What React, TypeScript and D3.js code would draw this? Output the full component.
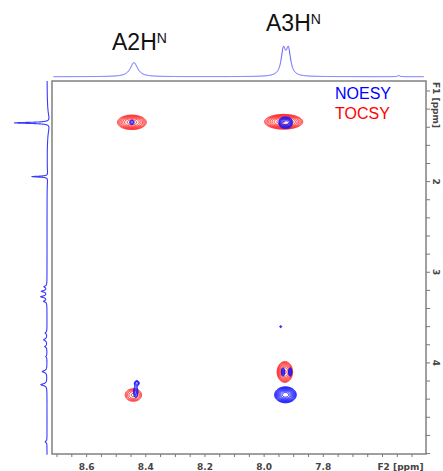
import React, { useMemo } from "react";
import * as d3 from "d3";

const W = 443;
const H = 471;

// Plot frame (pixels) and spectral windows (ppm)
const FRAME = { left: 52, top: 81, right: 426, bottom: 454 };
const F2_DOMAIN: [number, number] = [8.717, 7.453];
const F1_DOMAIN: [number, number] = [0.89, 5.005];

// Axis labels
const F2_LABEL_VALUES = [8.6, 8.4, 8.2, 8.0, 7.8];
const F2_LABELS = ["8.6", "8.4", "8.2", "8.0", "7.8"];
const F1_LABEL_VALUES = [2, 3, 4];
const F1_LABELS = ["2", "3", "4"];

// 1D projection along F2: [shift ppm, intensity, half-width ppm]
const F2_PEAKS: [number, number, number][] = [
  [8.440, 0.47, 0.015],
  [7.935, 0.83, 0.009],
  [7.918, 0.83, 0.009],
  [7.545, 0.04, 0.004],
];

// 1D projection along F1: [shift ppm, intensity, half-width ppm]
const F1_PEAKS: [number, number, number][] = [
  [1.352, 1.0, 0.007],
  [1.352, -0.09, 0.1],
  [1.945, 0.44, 0.006],
  [1.945, -0.03, 0.06],
  [3.16, 0.08, 0.01],
  [3.21, 0.15, 0.01],
  [3.27, 0.17, 0.01],
  [3.32, 0.09, 0.01],
  [3.67, 0.05, 0.01],
  [3.745, 0.09, 0.012],
  [3.82, 0.06, 0.01],
  [3.93, 0.03, 0.01],
  [4.095, 0.13, 0.012],
  [4.24, 0.17, 0.012],
  [4.87, 0.05, 0.01],
];

// 2D cross peaks: [F2 ppm, F1 ppm, F2 width ppm, F1 width ppm, intensity]
const TOCSY_PEAKS: [number, number, number, number, number][] = [
  [8.447, 1.346, 0.028, 0.046, 0.45],
  [7.934, 1.34, 0.034, 0.043, 0.6],
  [7.93, 4.1, 0.0145, 0.064, 0.5],
  [8.442, 4.354, 0.02, 0.05, 0.26],
];

const NOESY_PEAKS: [number, number, number, number, number][] = [
  [8.447, 1.346, 0.0065, 0.021, 0.2],
  [7.936, 1.35, 0.009, 0.036, 0.35],
  [7.919, 1.35, 0.009, 0.036, 0.35],
  [7.944, 3.6, 0.004, 0.013, 0.14],
  [7.936, 4.1, 0.004, 0.034, 0.25],
  [7.912, 4.1, 0.004, 0.034, 0.25],
  [7.928, 4.352, 0.0175, 0.042, 0.9],
  [8.43, 4.222, 0.006, 0.02, 0.22],
  [8.434, 4.321, 0.006, 0.05, 0.22],
];

const CONTOUR_LEVELS = d3.range(14).map((k) => 0.1 * Math.pow(1.25, k));

const xScale = d3.scaleLinear().domain(F2_DOMAIN).range([FRAME.left, FRAME.right]);
const yScale = d3.scaleLinear().domain(F1_DOMAIN).range([FRAME.top, FRAME.bottom]);

function lorentz(peaks: [number, number, number][], v: number) {
  let s = 0;
  for (const [c, h, g] of peaks) s += (h * g * g) / ((v - c) * (v - c) + g * g);
  return s;
}

function contourPaths(peaks: [number, number, number, number, number][]) {
  const res = 0.5;
  const x0 = FRAME.left;
  const y0 = FRAME.top;
  const nx = Math.round((FRAME.right - FRAME.left) / res);
  const ny = Math.round((FRAME.bottom - FRAME.top) / res);
  const grid = new Float64Array(nx * ny);
  for (const [f2, f1, w2, w1, amp] of peaks) {
    const cx = xScale(f2);
    const cy = yScale(f1);
    const sx = Math.abs(xScale(f2 + w2) - cx);
    const sy = Math.abs(yScale(f1 + w1) - cy);
    const i0 = Math.max(0, Math.floor((cx - 5 * sx - x0) / res));
    const i1 = Math.min(nx - 1, Math.ceil((cx + 5 * sx - x0) / res));
    const j0 = Math.max(0, Math.floor((cy - 5 * sy - y0) / res));
    const j1 = Math.min(ny - 1, Math.ceil((cy + 5 * sy - y0) / res));
    for (let j = j0; j <= j1; j++) {
      const py = y0 + (j + 0.5) * res;
      const dy = (py - cy) / sy;
      for (let i = i0; i <= i1; i++) {
        const px = x0 + (i + 0.5) * res;
        const dx = (px - cx) / sx;
        grid[j * nx + i] += amp * Math.exp(-0.5 * (dx * dx + dy * dy));
      }
    }
  }
  const contours = d3.contours().size([nx, ny]).thresholds(CONTOUR_LEVELS)(Array.from(grid));
  const proj = d3.geoTransform({
    point(x: number, y: number) {
      (this as any).stream.point(x0 + x * res, y0 + y * res);
    },
  });
  const path = d3.geoPath(proj);
  return contours.map((c) => path(c as any) || "");
}

export default function App() {
  const tocsy = useMemo(() => contourPaths(TOCSY_PEAKS), []);
  const noesy = useMemo(() => contourPaths(NOESY_PEAKS), []);

  // F2 projection above the frame
  const topBase = 76.7;
  const topH = d3.scaleLinear().domain([0, 1]).range([topBase, topBase - 30]);
  const f2Samples = d3.range(8.712, 7.46, -0.0005);
  const topLine = d3
    .line<number>()
    .x((v) => xScale(v))
    .y((v) => topH(lorentz(F2_PEAKS, v)))(f2Samples);

  // F1 projection left of the frame
  const leftBase = 47;
  const leftH = d3.scaleLinear().domain([0, 1]).range([leftBase, leftBase - 36]);
  const f1Samples = d3.range(F1_DOMAIN[0], F1_DOMAIN[1] + 0.01, 0.0005);
  const leftLine = d3
    .line<number>()
    .x((v) => leftH(lorentz(F1_PEAKS, v)))
    .y((v) => yScale(v))(f1Samples);

  const f2Ticks = d3.range(7.5, 8.7001, 0.05);
  const f1Ticks = d3.range(1.0, 5.0001, 0.2);

  const axisFont = "'DejaVu Sans', Verdana, sans-serif";
  const titleFont = "'Liberation Sans', Arial, sans-serif";

  return (
    <svg
      width={W}
      height={H}
      viewBox={`0 0 ${W} ${H}`}
      style={{ position: "absolute", left: 0, top: 0, background: "#fff" }}
    >
      <rect width={W} height={H} fill="#fff" />

      {/* Peak assignments */}
      <text x={112} y={50} fontFamily={titleFont} fontSize={23} fill="#111">
        A2H
        <tspan fontSize={14} dy={-7}>N</tspan>
      </text>
      <text x={266} y={31} fontFamily={titleFont} fontSize={23} fill="#111">
        A3H
        <tspan fontSize={14} dy={-7}>N</tspan>
      </text>

      {/* 1D projections */}
      <path d={topLine || ""} fill="none" stroke="#5555ff" strokeWidth={1} />
      <path d={leftLine || ""} fill="none" stroke="#3a3aff" strokeWidth={1.1} />

      {/* Frame */}
      <rect
        x={FRAME.left}
        y={FRAME.top}
        width={FRAME.right - FRAME.left}
        height={FRAME.bottom - FRAME.top}
        fill="none"
        stroke="#808080"
        strokeWidth={1.5}
      />

      {/* Contours */}
      <g fill="none" stroke="#ff1a1a" strokeWidth={1}>
        {tocsy.map((d, i) => (
          <path key={`t${i}`} d={d} />
        ))}
      </g>
      <g fill="none" stroke="#1a1aff" strokeWidth={1}>
        {noesy.map((d, i) => (
          <path key={`n${i}`} d={d} />
        ))}
      </g>

      {/* Legend */}
      <text x={335} y={99} fontFamily={titleFont} fontSize={16} fill="#0000ff">
        NOESY
      </text>
      <text x={335} y={118.5} fontFamily={titleFont} fontSize={16} fill="#ff0000">
        TOCSY
      </text>

      {/* F2 axis */}
      <g stroke="#777" strokeWidth={1}>
        {f2Ticks.map((v, i) => (
          <line key={i} x1={xScale(v)} x2={xScale(v)} y1={FRAME.bottom} y2={FRAME.bottom + 3} />
        ))}
      </g>
      <g fontFamily={axisFont} fontSize={9} fontWeight="bold" fill="#444" textAnchor="middle">
        {F2_LABEL_VALUES.map((v, i) => (
          <text key={i} x={xScale(v)} y={469.5}>
            {F2_LABELS[i]}
          </text>
        ))}
        <text x={400.5} y={469.5}>F2 [ppm]</text>
      </g>

      {/* F1 axis */}
      <g stroke="#777" strokeWidth={1}>
        {f1Ticks.map((v, i) => (
          <line key={i} x1={FRAME.right} x2={FRAME.right + 4} y1={yScale(v)} y2={yScale(v)} />
        ))}
      </g>
      <g fontFamily={axisFont} fontSize={9} fontWeight="bold" fill="#444" textAnchor="middle">
        {F1_LABEL_VALUES.map((v, i) => (
          <text
            key={i}
            x={436}
            y={yScale(v)}
            dominantBaseline="central"
            transform={`rotate(90 436 ${yScale(v)})`}
          >
            {F1_LABELS[i]}
          </text>
        ))}
        <text x={436} y={105} dominantBaseline="central" transform="rotate(90 436 105)">
          F1 [ppm]
        </text>
      </g>
    </svg>
  );
}
